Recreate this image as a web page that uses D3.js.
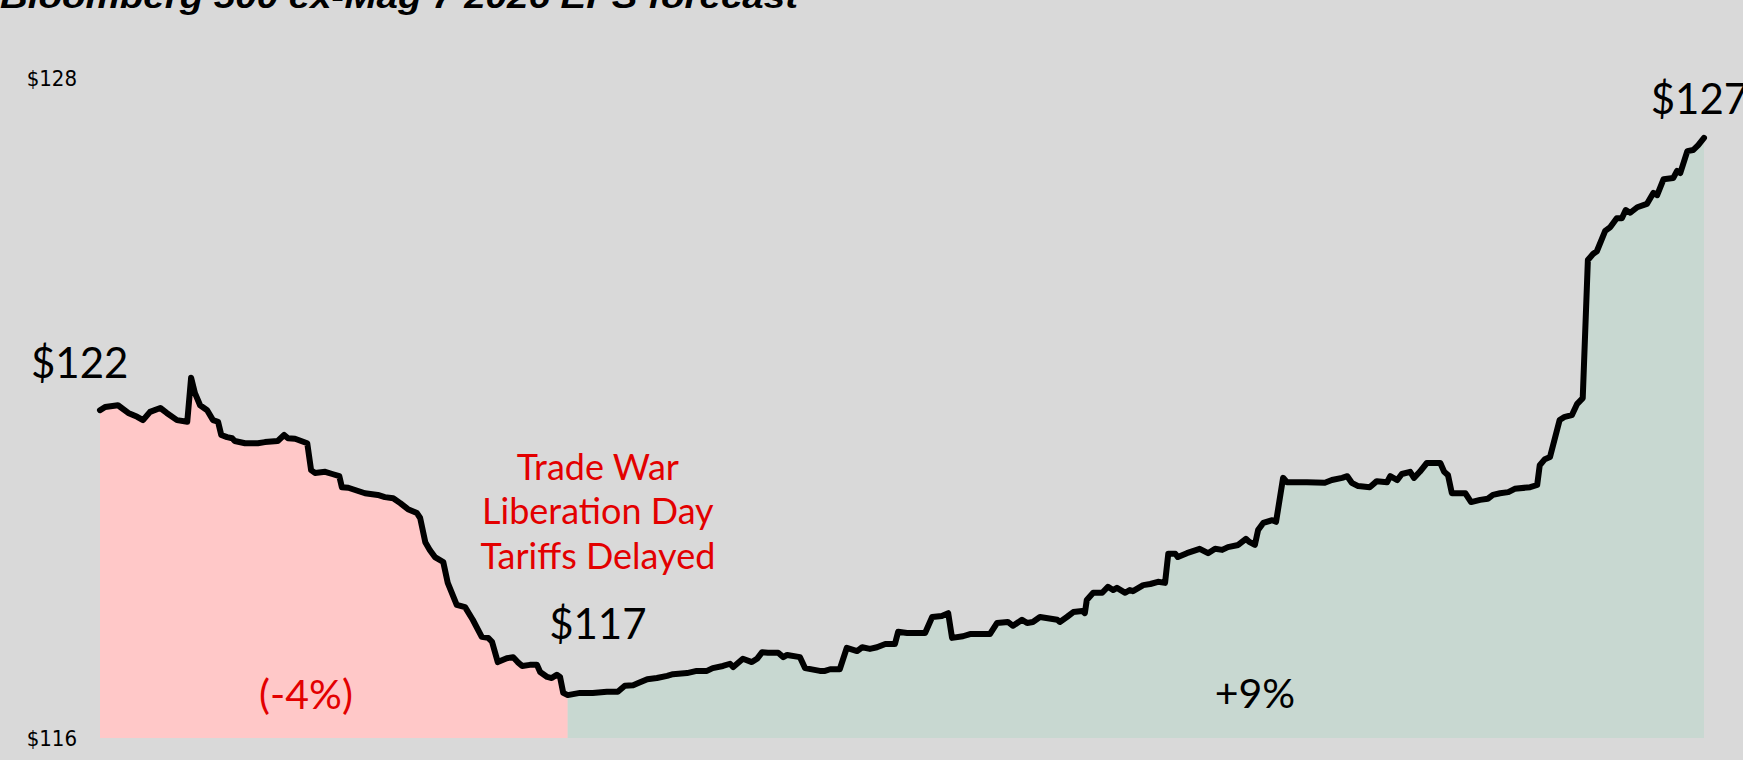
<!DOCTYPE html>
<html>
<head>
<meta charset="utf-8">
<script src="https://d3js.org/d3.v7.min.js"></script>
<style>
  body { margin: 0; background: #d9d9d9; overflow: hidden; }
</style>
</head>
<body>
<script>
let width = 1743,
    height = 760;

// trading day index (0 = start of window) and 2026 EPS forecast ($)
let days = [0,0.8,2.8,4.4,5.8,6.7,7.8,9.4,10.4,12.0,13.6,14.2,14.8,15.6,16.7,17.6,18.4,18.9,19.8,20.6,
  21.0,22.6,24.6,25.7,27.7,28.7,29.3,30.4,32.3,32.9,33.5,35.1,36.2,37.3,37.7,38.7,41.3,43.3,44.4,45.7,
  46.8,48.0,49.4,49.9,50.7,51.4,52.2,53.5,54.2,55.6,56.9,58.1,59.5,60.5,61.1,62.0,63.4,64.4,65.1,65.8,
  67.0,68.1,68.6,69.7,70.4,71.2,71.7,72.2,72.9,74.8,76.8,79.0,80.7,81.8,83.1,83.9,85.3,86.8,88.4,89.3,
  91.5,93.0,94.6,95.5,97.1,98.2,98.7,100.2,101.6,102.4,103.2,104.1,105.7,106.5,107.1,109.1,109.9,112.2,113.0,113.8,
  115.3,116.4,118.0,118.8,120.0,121.1,122.4,123.9,124.4,125.8,128.6,129.7,131.2,132.2,132.8,134.5,135.6,138.7,139.8,141.5,
  142.3,143.7,144.5,145.4,146.5,149.2,149.6,150.7,151.7,153.1,153.5,153.8,154.8,156.2,157.1,157.9,158.5,159.8,160.5,161.0,
  162.6,163.7,164.9,166.0,166.5,167.6,168.0,169.4,171.4,172.7,173.8,174.9,175.8,177.4,178.6,179.2,180.0,180.5,181.3,182.7,
  183.3,184.4,185.0,188.1,190.9,192.0,193.6,194.4,195.1,196.1,197.9,199.0,200.6,201.1,202.2,202.9,204.2,204.8,205.7,206.8,
  208.9,209.5,210.1,210.7,212.8,213.7,215.1,216.3,217.1,218.2,219.5,220.5,222.9,224.0,224.4,225.2,226.0,227.5,228.3,229.4,
  230.2,231.1,231.9,232.7,233.3,234.6,235.4,236.4,237.2,237.8,238.5,239.6,241.1,242.1,242.7,243.7,245.2,245.8,246.3,247.4,
  248.3,249.1,250.0];

let eps = [121.96,122.02,122.05,121.91,121.84,121.78,121.93,122.00,121.91,121.78,121.75,122.55,122.27,122.05,121.96,121.78,121.75,121.51,121.47,121.45,
  121.40,121.36,121.36,121.38,121.40,121.51,121.45,121.44,121.36,120.87,120.82,120.84,120.80,120.76,120.56,120.55,120.45,120.42,120.38,120.36,
  120.27,120.16,120.09,120.00,119.56,119.42,119.29,119.20,118.82,118.42,118.38,118.15,117.84,117.82,117.75,117.38,117.45,117.47,117.38,117.31,
  117.33,117.33,117.20,117.11,117.09,117.15,117.11,116.82,116.78,116.82,116.82,116.84,116.84,116.95,116.96,117.00,117.07,117.09,117.13,117.16,
  117.18,117.22,117.22,117.27,117.31,117.35,117.29,117.44,117.38,117.44,117.56,117.55,117.55,117.47,117.51,117.47,117.27,117.22,117.22,117.25,
  117.25,117.64,117.58,117.65,117.62,117.65,117.71,117.71,117.93,117.91,117.91,118.20,118.22,118.27,117.82,117.85,117.89,117.89,118.09,118.11,
  118.04,118.15,118.09,118.11,118.20,118.15,118.11,118.20,118.29,118.31,118.27,118.51,118.64,118.64,118.75,118.69,118.73,118.64,118.69,118.67,
  118.78,118.80,118.84,118.82,119.35,119.35,119.29,119.36,119.44,119.36,119.44,119.42,119.47,119.51,119.62,119.56,119.51,119.78,119.91,119.96,
  119.93,120.73,120.65,120.65,120.64,120.69,120.73,120.76,120.64,120.58,120.56,120.67,120.65,120.76,120.69,120.80,120.84,120.73,120.84,121.00,
  121.00,120.84,120.78,120.45,120.45,120.29,120.33,120.35,120.42,120.45,120.47,120.53,120.56,120.60,120.96,121.07,121.11,121.78,121.84,121.87,
  122.07,122.18,124.69,124.80,124.85,125.22,125.29,125.45,125.45,125.60,125.55,125.65,125.71,125.91,125.87,126.16,126.18,126.31,126.27,126.67,
  126.69,126.78,126.91];

let yTicks = [116, 128];
let lowDay = 72.9;   // trough, where the fill changes colour
let noteLines = ["Trade War", "Liberation Day", "Tariffs Delayed"];

let data = days.map((d, i) => ({day: d, eps: eps[i]}));

let svg = d3.select("body").append("svg")
    .attr("width", width)
    .attr("height", height)
    .style("font-family", "Lato, 'Noto Sans', sans-serif");

svg.append("rect")
    .attr("width", width)
    .attr("height", height)
    .attr("fill", "#d9d9d9");

let x = d3.scaleLinear()
    .domain([0, 250])
    .range([100, 1704]);
let y = d3.scaleLinear()
    .domain([116, 128])
    .range([738, 78]);

let area = d3.area()
    .x(d => x(d.day))
    .y0(y(116))
    .y1(d => y(d.eps));

svg.append("path")
    .datum(data.filter(d => d.day <= lowDay))
    .attr("d", area)
    .attr("fill", "#ffc8c8");

svg.append("path")
    .datum(data.filter(d => d.day >= lowDay))
    .attr("d", area)
    .attr("fill", "#c8d8d1");

svg.append("path")
    .datum(data)
    .attr("d", d3.line().x(d => x(d.day)).y(d => y(d.eps)))
    .attr("fill", "none")
    .attr("stroke", "#000")
    .attr("stroke-width", 6)
    .attr("stroke-linejoin", "round")
    .attr("stroke-linecap", "round");

// y axis: only the two end labels
let yAxis = svg.append("g")
    .attr("transform", "translate(77,0)")
    .call(d3.axisLeft(y).tickValues(yTicks).tickSize(0).tickPadding(0).tickFormat(d => "$" + d));
yAxis.select(".domain").remove();
yAxis.selectAll("text")
    .style("font-family", "'Liberation Sans Narrow', 'DejaVu Sans Condensed', sans-serif")
    .style("font-size", "22px")
    .attr("fill", "#000");

// title, cut by the top edge
svg.append("text")
    .attr("x", 0)
    .attr("y", 8)
    .attr("textLength", 798)
    .attr("lengthAdjust", "spacingAndGlyphs")
    .style("font-family", "'Liberation Sans', Arial, sans-serif")
    .style("font-weight", "bold")
    .style("font-style", "italic")
    .style("font-size", "34px")
    .text("Bloomberg 500 ex-Mag 7 2026 EPS forecast");

// value call-outs
let first = data[0],
    last = data[data.length - 1],
    low = data.find(d => d.day === lowDay);

svg.append("text")
    .attr("x", x(first.day) - 69)
    .attr("y", y(122.55))
    .style("font-size", "42px")
    .text("$" + Math.round(first.eps));

svg.append("text")
    .attr("x", x(77.6))
    .attr("y", y(117.8))
    .attr("text-anchor", "middle")
    .style("font-size", "42px")
    .text("$" + Math.round(low.eps));

svg.append("text")
    .attr("x", x(241.7))
    .attr("y", y(127.35))
    .style("font-size", "42px")
    .text("$" + Math.round(last.eps));

svg.selectAll(".note")
    .data(noteLines)
    .join("text")
    .attr("class", "note")
    .attr("x", x(77.6))
    .attr("y", (d, i) => y(120.7) + i * 44.5)
    .attr("text-anchor", "middle")
    .attr("fill", "#e30000")
    .style("font-size", "36px")
    .text(d => d);

svg.append("text")
    .attr("x", x(32.1))
    .attr("y", y(116.53))
    .attr("text-anchor", "middle")
    .attr("fill", "#e30000")
    .style("font-size", "41px")
    .text("(-4%)");

svg.append("text")
    .attr("x", x(180))
    .attr("y", y(116.55))
    .attr("text-anchor", "middle")
    .attr("fill", "#000")
    .style("font-size", "41px")
    .text("+9%");
</script>
</body>
</html>
